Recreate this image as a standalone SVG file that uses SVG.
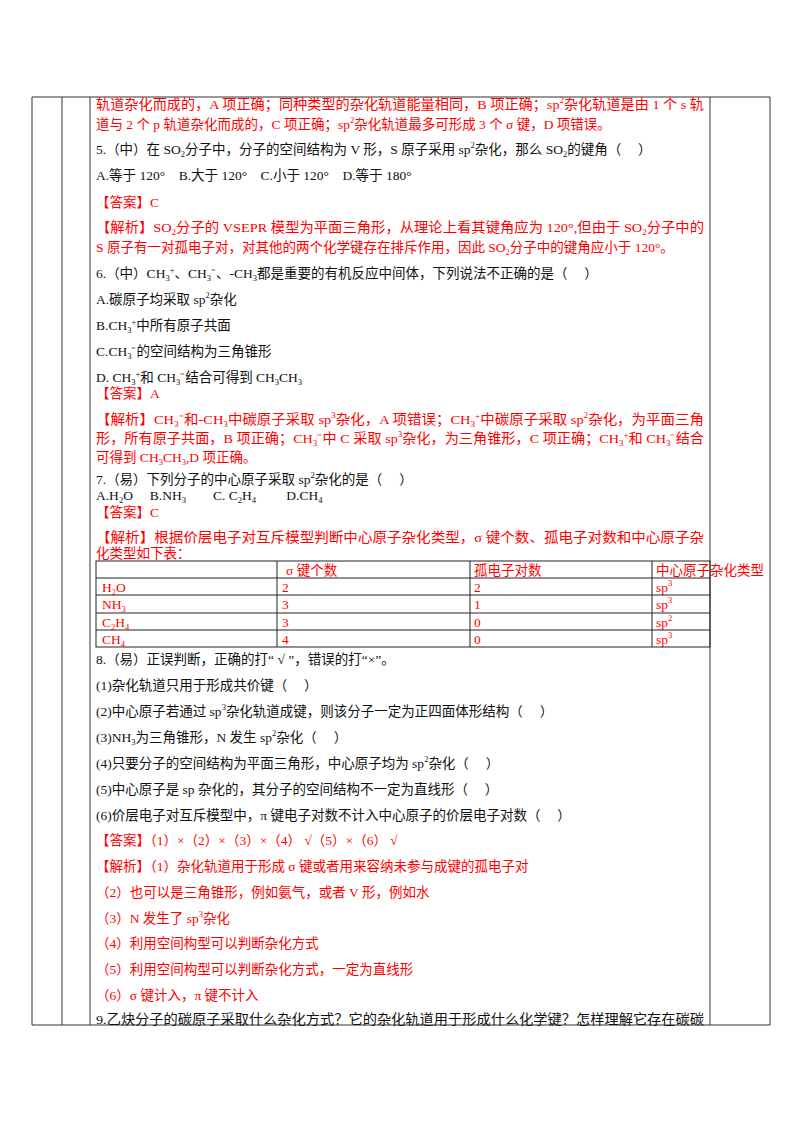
<svg xmlns="http://www.w3.org/2000/svg" width="800" height="1132" viewBox="0 0 800 1132">
<style>
text{font-family:"Liberation Serif","Noto Sans CJK SC",serif;font-size:13.5px;fill:#111}
.r{fill:#f00}
.s{font-size:8.5px}
line{stroke:#333;stroke-width:1}
.t{stroke:#222;stroke-width:1}
</style>
<rect width="800" height="1132" fill="#fff"/>
<g id="frame">
<line x1="32" y1="97" x2="770" y2="97"/>
<line x1="32" y1="1025" x2="770" y2="1025"/>
<line x1="32" y1="97" x2="32" y2="1025"/>
<line x1="62" y1="97" x2="62" y2="1025"/>
<line x1="90" y1="97" x2="90" y2="1025"/>
<line x1="710" y1="97" x2="710" y2="1025"/>
<line x1="770" y1="97" x2="770" y2="1025"/>
</g>
<g id="table">
<rect x="96" y="561" width="614" height="86" fill="none" class="t"/>
<line x1="96" y1="578" x2="710" y2="578" class="t"/>
<line x1="96" y1="595" x2="710" y2="595" class="t"/>
<line x1="96" y1="613" x2="710" y2="613" class="t"/>
<line x1="96" y1="630" x2="710" y2="630" class="t"/>
<line x1="277" y1="561" x2="277" y2="647" class="t"/>
<line x1="470" y1="561" x2="470" y2="647" class="t"/>
<line x1="652" y1="561" x2="652" y2="647" class="t"/>
<text class="r" x="286" y="575">σ 键个数</text>
<text class="r" x="474" y="575">孤电子对数</text>
<text class="r" x="656" y="575">中心原子杂化类型</text>
<text class="r" x="102" y="592">H<tspan class="s" dy="3">2</tspan><tspan dy="-3">O</tspan></text>
<text class="r" x="282" y="592">2</text><text class="r" x="474" y="592">2</text>
<text class="r" x="656" y="592">sp<tspan class="s" dy="-6">3</tspan></text>
<text class="r" x="102" y="609">NH<tspan class="s" dy="3">3</tspan></text>
<text class="r" x="282" y="609">3</text><text class="r" x="474" y="609">1</text>
<text class="r" x="656" y="609">sp<tspan class="s" dy="-6">3</tspan></text>
<text class="r" x="102" y="627">C<tspan class="s" dy="3">2</tspan><tspan dy="-3">H</tspan><tspan class="s" dy="3">4</tspan></text>
<text class="r" x="282" y="627">3</text><text class="r" x="474" y="627">0</text>
<text class="r" x="656" y="627">sp<tspan class="s" dy="-6">2</tspan></text>
<text class="r" x="102" y="644">CH<tspan class="s" dy="3">4</tspan></text>
<text class="r" x="282" y="644">4</text><text class="r" x="474" y="644">0</text>
<text class="r" x="656" y="644">sp<tspan class="s" dy="-6">3</tspan></text>
</g>
<g id="content">
<text class="r" x="96" y="109" textLength="608" lengthAdjust="spacingAndGlyphs">轨道杂化而成的，A 项正确；同种类型的杂化轨道能量相同，B 项正确；sp<tspan class="s" dy="-6">2</tspan><tspan dy="6">杂化轨道是由 1 个 s 轨</tspan></text>
<text class="r" x="96" y="129">道与 2 个 p 轨道杂化而成的，C 项正确；sp<tspan class="s" dy="-6">2</tspan><tspan dy="6">杂化轨道最多可形成 3 个 σ 键，D 项错误。</tspan></text>
<text x="96" y="154">5.（中）在 SO<tspan class="s" dy="3">2</tspan><tspan dy="-3">分子中，分子的空间结构为 V 形，S 原子采用 sp</tspan><tspan class="s" dy="-6">2</tspan><tspan dy="6">杂化，那么 SO</tspan><tspan class="s" dy="3">2</tspan><tspan dy="-3">的键角（　 ）</tspan></text>
<text x="96" y="180">A.等于 120°　B.大于 120°　C.小于 120°　D.等于 180°</text>
<text class="r" x="96" y="207">【答案】C</text>
<text class="r" x="96" y="232" textLength="608" lengthAdjust="spacingAndGlyphs">【解析】SO<tspan class="s" dy="3">2</tspan><tspan dy="-3">分子的  VSEPR 模型为平面三角形，从理论上看其键角应为 120°,但由于 SO</tspan><tspan class="s" dy="3">2</tspan><tspan dy="-3">分子中的</tspan></text>
<text class="r" x="96" y="252">S 原子有一对孤电子对，对其他的两个化学键存在排斥作用，因此 SO<tspan class="s" dy="3">2</tspan><tspan dy="-3">分子中的键角应小于 120°。</tspan></text>
<text x="96" y="278">6.（中）CH<tspan class="s" dy="3">3</tspan><tspan class="s" dy="-8">+</tspan><tspan dy="5">、CH</tspan><tspan class="s" dy="3">3</tspan><tspan dy="-3">⁻、-CH</tspan><tspan class="s" dy="3">3</tspan><tspan dy="-3">都是重要的有机反应中间体，下列说法不正确的是（　 ）</tspan></text>
<text x="96" y="304">A.碳原子均采取 sp<tspan class="s" dy="-6">2</tspan><tspan dy="6">杂化</tspan></text>
<text x="96" y="330">B.CH<tspan class="s" dy="3">3</tspan><tspan class="s" dy="-8">+</tspan><tspan dy="5">中所有原子共面</tspan></text>
<text x="96" y="356">C.CH<tspan class="s" dy="3">3</tspan><tspan dy="-3">⁻的空间结构为三角锥形</tspan></text>
<text x="96" y="382">D.  CH<tspan class="s" dy="3">3</tspan><tspan class="s" dy="-8">+</tspan><tspan dy="5">和 CH</tspan><tspan class="s" dy="3">3</tspan><tspan dy="-3">⁻结合可得到 CH</tspan><tspan class="s" dy="3">3</tspan><tspan dy="-3">CH</tspan><tspan class="s" dy="3">3</tspan></text>
<text class="r" x="96" y="398">【答案】A</text>
<text class="r" x="96" y="424" textLength="608" lengthAdjust="spacingAndGlyphs">【解析】CH<tspan class="s" dy="3">3</tspan><tspan dy="-3">⁻和-CH</tspan><tspan class="s" dy="3">3</tspan><tspan dy="-3">中碳原子采取 sp</tspan><tspan class="s" dy="-6">3</tspan><tspan dy="6">杂化，A 项错误；CH</tspan><tspan class="s" dy="3">3</tspan><tspan class="s" dy="-8">+</tspan><tspan dy="5">中碳原子采取 sp</tspan><tspan class="s" dy="-6">2</tspan><tspan dy="6">杂化，为平面三角</tspan></text>
<text class="r" x="96" y="443" textLength="608" lengthAdjust="spacingAndGlyphs">形，所有原子共面，B 项正确；CH<tspan class="s" dy="3">3</tspan><tspan dy="-3">⁻中 C 采取 sp</tspan><tspan class="s" dy="-6">3</tspan><tspan dy="6">杂化，为三角锥形，C 项正确；CH</tspan><tspan class="s" dy="3">3</tspan><tspan class="s" dy="-8">+</tspan><tspan dy="5">和 CH</tspan><tspan class="s" dy="3">3</tspan><tspan dy="-3">⁻结合</tspan></text>
<text class="r" x="96" y="462">可得到 CH<tspan class="s" dy="3">3</tspan><tspan dy="-3">CH</tspan><tspan class="s" dy="3">3</tspan><tspan dy="-3">,D 项正确。</tspan></text>
<text x="96" y="484">7.（易）下列分子的中心原子采取 sp<tspan class="s" dy="-6">2</tspan><tspan dy="6">杂化的是（　 ）</tspan></text>
<text x="96" y="500">A.H<tspan class="s" dy="3">2</tspan><tspan dy="-3">O　 B.NH</tspan><tspan class="s" dy="3">3</tspan><tspan dy="-3">　　C.  C</tspan><tspan class="s" dy="3">2</tspan><tspan dy="-3">H</tspan><tspan class="s" dy="3">4</tspan><tspan dy="-3">　　 D.CH</tspan><tspan class="s" dy="3">4</tspan></text>
<text class="r" x="96" y="517">【答案】C</text>
<text class="r" x="96" y="542" textLength="608" lengthAdjust="spacingAndGlyphs">【解析】根据价层电子对互斥模型判断中心原子杂化类型，σ 键个数、孤电子对数和中心原子杂</text>
<text class="r" x="96" y="558">化类型如下表：</text>
<text x="96" y="664">8.（易）正误判断，正确的打“ √ ”，错误的打“×”。</text>
<text x="96" y="690">(1)杂化轨道只用于形成共价键（　 ）</text>
<text x="96" y="716">(2)中心原子若通过 sp<tspan class="s" dy="-6">3</tspan><tspan dy="6">杂化轨道成键，则该分子一定为正四面体形结构（　 ）</tspan></text>
<text x="96" y="742">(3)NH<tspan class="s" dy="3">3</tspan><tspan dy="-3">为三角锥形，N 发生 sp</tspan><tspan class="s" dy="-6">2</tspan><tspan dy="6">杂化（　 ）</tspan></text>
<text x="96" y="768">(4)只要分子的空间结构为平面三角形，中心原子均为 sp<tspan class="s" dy="-6">2</tspan><tspan dy="6">杂化（　 ）</tspan></text>
<text x="96" y="794">(5)中心原子是 sp 杂化的，其分子的空间结构不一定为直线形（　 ）</text>
<text x="96" y="820">(6)价层电子对互斥模型中，π 键电子对数不计入中心原子的价层电子对数（　 ）</text>
<text class="r" x="96" y="845">【答案】（1）×（2）×（3）×（4） √（5）×（6） √</text>
<text class="r" x="96" y="871">【解析】（1）杂化轨道用于形成 σ 键或者用来容纳未参与成键的孤电子对</text>
<text class="r" x="96" y="897">（2）也可以是三角锥形，例如氨气，或者 V 形，例如水</text>
<text class="r" x="96" y="923">（3）N 发生了 sp<tspan class="s" dy="-6">3</tspan><tspan dy="6">杂化</tspan></text>
<text class="r" x="96" y="948">（4）利用空间构型可以判断杂化方式</text>
<text class="r" x="96" y="974">（5）利用空间构型可以判断杂化方式，一定为直线形</text>
<text class="r" x="96" y="1000">（6）σ 键计入，π 键不计入</text>
<text x="96" y="1024" textLength="608" lengthAdjust="spacingAndGlyphs">9.乙炔分子的碳原子采取什么杂化方式？它的杂化轨道用于形成什么化学键？怎样理解它存在碳碳</text>
</g>
</svg>
